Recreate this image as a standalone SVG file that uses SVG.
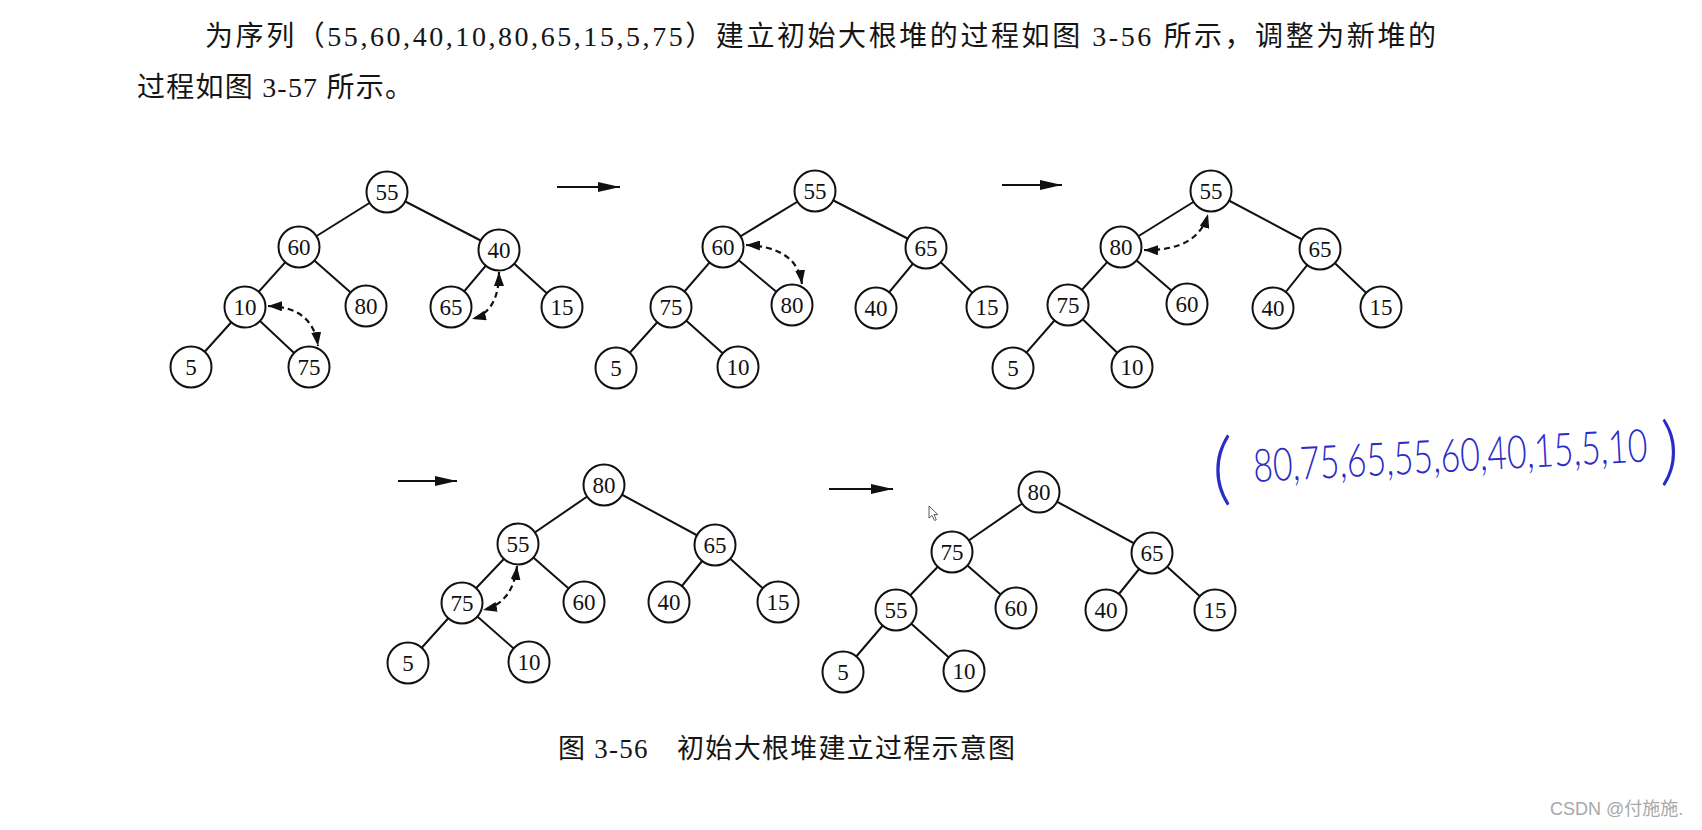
<svg xmlns="http://www.w3.org/2000/svg" width="1702" height="830" viewBox="0 0 1702 830">
<style>
.bg{fill:#fff}
.para{font-family:'Liberation Serif','Noto Sans CJK SC',serif;font-size:28px;fill:#151515}
.cap{font-family:'Liberation Serif','Noto Sans CJK SC',serif;font-size:27px;fill:#151515}
.node circle{fill:#fff;stroke:#111;stroke-width:2}
.node text{font-family:'Liberation Serif',serif;font-size:23px;fill:#111;text-anchor:middle}
.edge{stroke:#111;stroke-width:2;fill:none}
.swap{stroke:#111;stroke-width:2.2;fill:none;stroke-dasharray:6 4;marker-start:url(#ah);marker-end:url(#ah)}
.step{stroke:#111;stroke-width:2;fill:none;marker-end:url(#big)}
.hand{font-family:Lato,'Liberation Sans',sans-serif;font-weight:300;fill:#2b2bc8}
.wm{font-family:'Liberation Sans','Noto Sans CJK SC',sans-serif;font-size:18px;fill:#a8a8a8}
</style>
<defs>
<marker id="ah" markerUnits="userSpaceOnUse" markerWidth="14" markerHeight="10" refX="14" refY="5" orient="auto-start-reverse"><path d="M0,0 L14,5 L0,10 Z" fill="#111"/></marker>
<marker id="big" markerUnits="userSpaceOnUse" markerWidth="22" markerHeight="10" refX="22" refY="5" orient="auto"><path d="M0,0 L22,5 L0,10 Z" fill="#111"/></marker>
</defs>
<rect class="bg" x="0" y="0" width="1702" height="830"/>
<text class="para" x="205" y="46" textLength="1231" lengthAdjust="spacing" xml:space="preserve">为序列（55,60,40,10,80,65,15,5,75）建立初始大根堆的过程如图 3-56 所示，调整为新堆的</text>
<text class="para" x="137" y="97" textLength="276" lengthAdjust="spacing" xml:space="preserve">过程如图 3-57 所示。</text>

<g id="connectors">
<!-- tree 1 -->
<path class="edge" d="M387,192 L299,247 M387,192 L499,250 M299,247 L245,307 M299,247 L366,306 M499,250 L451,307 M499,250 L562,307 M245,307 L191,367 M245,307 L309,367"/>
<path class="swap" d="M268,306 Q313,307 318,346"/>
<path class="swap" d="M499,272 Q499,312 472,319"/>
<path class="step" d="M557,187 L620,187"/>
<!-- tree 2 -->
<path class="edge" d="M815,191 L723,247 M815,191 L926,248 M723,247 L671,307 M723,247 L792,305 M926,248 L876,308 M926,248 L987,307 M671,307 L616,368 M671,307 L738,367"/>
<path class="swap" d="M746,245 Q797,247 802,284"/>
<path class="step" d="M1002,185 L1062,185"/>
<!-- tree 3 -->
<path class="edge" d="M1211,191 L1121,247 M1211,191 L1320,249 M1121,247 L1068,305 M1121,247 L1187,304 M1320,249 L1273,308 M1320,249 L1381,307 M1068,305 L1013,368 M1068,305 L1132,367"/>
<path class="swap" d="M1144,250 Q1198,251 1208,214"/>
<!-- tree 4 -->
<path class="step" d="M398,481 L457,481"/>
<path class="edge" d="M604,485 L518,544 M604,485 L715,545 M518,544 L462,603 M518,544 L584,602 M715,545 L669,602 M715,545 L778,602 M462,603 L408,663 M462,603 L529,662"/>
<path class="swap" d="M517,566 Q513,603 483,610"/>
<!-- tree 5 -->
<path class="step" d="M829,489 L893,489"/>
<path class="edge" d="M1039,492 L952,552 M1039,492 L1152,553 M952,552 L896,610 M952,552 L1016,608 M1152,553 L1106,610 M1152,553 L1215,610 M896,610 L843,672 M896,610 L964,671"/>
</g>

<!-- tree 1 nodes -->
<g id="t1-55" class="node"><circle cx="387" cy="192" r="20.5"/><text x="387" y="200">55</text></g>
<g id="t1-60" class="node"><circle cx="299" cy="247" r="20.5"/><text x="299" y="255">60</text></g>
<g id="t1-40" class="node"><circle cx="499" cy="250" r="20.5"/><text x="499" y="258">40</text></g>
<g id="t1-10" class="node"><circle cx="245" cy="307" r="20.5"/><text x="245" y="315">10</text></g>
<g id="t1-80" class="node"><circle cx="366" cy="306" r="20.5"/><text x="366" y="314">80</text></g>
<g id="t1-65" class="node"><circle cx="451" cy="307" r="20.5"/><text x="451" y="315">65</text></g>
<g id="t1-15" class="node"><circle cx="562" cy="307" r="20.5"/><text x="562" y="315">15</text></g>
<g id="t1-5" class="node"><circle cx="191" cy="367" r="20.5"/><text x="191" y="375">5</text></g>
<g id="t1-75" class="node"><circle cx="309" cy="367" r="20.5"/><text x="309" y="375">75</text></g>
<!-- tree 2 nodes -->
<g id="t2-55" class="node"><circle cx="815" cy="191" r="20.5"/><text x="815" y="199">55</text></g>
<g id="t2-60" class="node"><circle cx="723" cy="247" r="20.5"/><text x="723" y="255">60</text></g>
<g id="t2-65" class="node"><circle cx="926" cy="248" r="20.5"/><text x="926" y="256">65</text></g>
<g id="t2-75" class="node"><circle cx="671" cy="307" r="20.5"/><text x="671" y="315">75</text></g>
<g id="t2-80" class="node"><circle cx="792" cy="305" r="20.5"/><text x="792" y="313">80</text></g>
<g id="t2-40" class="node"><circle cx="876" cy="308" r="20.5"/><text x="876" y="316">40</text></g>
<g id="t2-15" class="node"><circle cx="987" cy="307" r="20.5"/><text x="987" y="315">15</text></g>
<g id="t2-5" class="node"><circle cx="616" cy="368" r="20.5"/><text x="616" y="376">5</text></g>
<g id="t2-10" class="node"><circle cx="738" cy="367" r="20.5"/><text x="738" y="375">10</text></g>
<!-- tree 3 nodes -->
<g id="t3-55" class="node"><circle cx="1211" cy="191" r="20.5"/><text x="1211" y="199">55</text></g>
<g id="t3-80" class="node"><circle cx="1121" cy="247" r="20.5"/><text x="1121" y="255">80</text></g>
<g id="t3-65" class="node"><circle cx="1320" cy="249" r="20.5"/><text x="1320" y="257">65</text></g>
<g id="t3-75" class="node"><circle cx="1068" cy="305" r="20.5"/><text x="1068" y="313">75</text></g>
<g id="t3-60" class="node"><circle cx="1187" cy="304" r="20.5"/><text x="1187" y="312">60</text></g>
<g id="t3-40" class="node"><circle cx="1273" cy="308" r="20.5"/><text x="1273" y="316">40</text></g>
<g id="t3-15" class="node"><circle cx="1381" cy="307" r="20.5"/><text x="1381" y="315">15</text></g>
<g id="t3-5" class="node"><circle cx="1013" cy="368" r="20.5"/><text x="1013" y="376">5</text></g>
<g id="t3-10" class="node"><circle cx="1132" cy="367" r="20.5"/><text x="1132" y="375">10</text></g>
<!-- tree 4 nodes -->
<g id="t4-80" class="node"><circle cx="604" cy="485" r="20.5"/><text x="604" y="493">80</text></g>
<g id="t4-55" class="node"><circle cx="518" cy="544" r="20.5"/><text x="518" y="552">55</text></g>
<g id="t4-65" class="node"><circle cx="715" cy="545" r="20.5"/><text x="715" y="553">65</text></g>
<g id="t4-75" class="node"><circle cx="462" cy="603" r="20.5"/><text x="462" y="611">75</text></g>
<g id="t4-60" class="node"><circle cx="584" cy="602" r="20.5"/><text x="584" y="610">60</text></g>
<g id="t4-40" class="node"><circle cx="669" cy="602" r="20.5"/><text x="669" y="610">40</text></g>
<g id="t4-15" class="node"><circle cx="778" cy="602" r="20.5"/><text x="778" y="610">15</text></g>
<g id="t4-5" class="node"><circle cx="408" cy="663" r="20.5"/><text x="408" y="671">5</text></g>
<g id="t4-10" class="node"><circle cx="529" cy="662" r="20.5"/><text x="529" y="670">10</text></g>
<!-- tree 5 nodes -->
<g id="t5-80" class="node"><circle cx="1039" cy="492" r="20.5"/><text x="1039" y="500">80</text></g>
<g id="t5-75" class="node"><circle cx="952" cy="552" r="20.5"/><text x="952" y="560">75</text></g>
<g id="t5-65" class="node"><circle cx="1152" cy="553" r="20.5"/><text x="1152" y="561">65</text></g>
<g id="t5-55" class="node"><circle cx="896" cy="610" r="20.5"/><text x="896" y="618">55</text></g>
<g id="t5-60" class="node"><circle cx="1016" cy="608" r="20.5"/><text x="1016" y="616">60</text></g>
<g id="t5-40" class="node"><circle cx="1106" cy="610" r="20.5"/><text x="1106" y="618">40</text></g>
<g id="t5-15" class="node"><circle cx="1215" cy="610" r="20.5"/><text x="1215" y="618">15</text></g>
<g id="t5-5" class="node"><circle cx="843" cy="672" r="20.5"/><text x="843" y="680">5</text></g>
<g id="t5-10" class="node"><circle cx="964" cy="671" r="20.5"/><text x="964" y="679">10</text></g>

<!-- mouse pointer -->
<path d="M929,506 L929,518 L932,515.5 L934.5,520.5 L936.3,519.6 L934,514.6 L937.8,514.6 Z" fill="#fff" stroke="#333" stroke-width="0.8"/>

<!-- handwritten note -->
<g id="note">
<text class="hand" x="1212" y="495" font-size="78">(</text>
<g transform="translate(1254,482) rotate(-3) scale(1,1.35)"><text class="hand" x="0" y="0" font-size="34">80,75,65,55,60,40,15,5,10</text></g>
<text class="hand" x="1660" y="476" font-size="74">)</text>
</g>

<text class="cap" x="558" y="758" textLength="457" lengthAdjust="spacing" xml:space="preserve">图 3-56　初始大根堆建立过程示意图</text>
<text class="wm" x="1550" y="815">CSDN @付施施.</text>
</svg>
